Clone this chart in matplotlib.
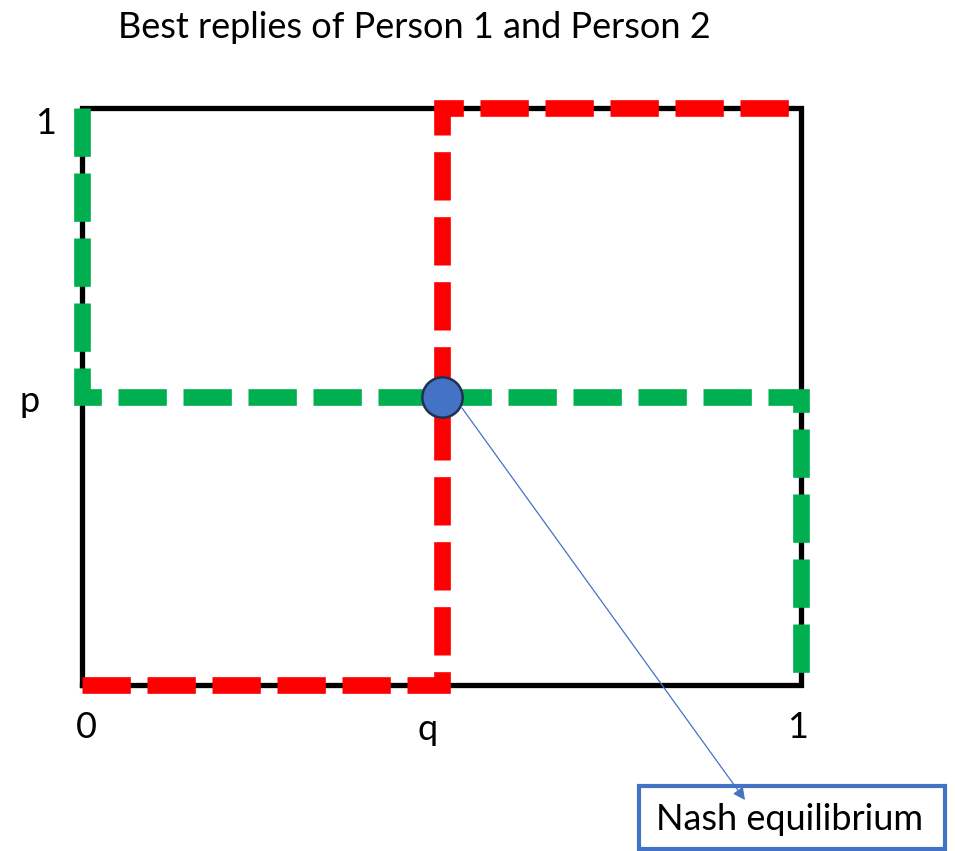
import matplotlib.pyplot as plt
from matplotlib.patches import Rectangle

plt.rcParams['font.family'] = ['Lato', 'DejaVu Sans']

# equilibrium mixing probabilities
q_star = 0.5
p_star = 0.5

# best reply of person 1 (green) and person 2 (red), as corner points (q, p)
br1_q = [0.0, 0.0, 1.0, 1.0]
br1_p = [1.0, p_star, p_star, 0.0]
br2_q = [0.0, q_star, q_star, 1.0]
br2_p = [0.0, 0.0, 1.0, 1.0]

W, H = 955, 851
x0, x1 = 82, 801      # pixel columns of q=0 and q=1
y0, y1 = 685, 108     # pixel rows of p=0 and p=1
sx = x1 - x0
sy = y0 - y1

def px(x, y):
    # pixel position (from top-left) -> data coordinates
    return (x - x0) / sx, (y0 - y) / sy

fig = plt.figure(figsize=(W / 100, H / 100), dpi=100)
ax = fig.add_axes([0, 0, 1, 1])
ax.set_xlim(-x0 / sx, (W - x0) / sx)
ax.set_ylim(-(H - y0) / sy, y0 / sy)
ax.axis('off')

# unit square
ax.plot([0, 1, 1, 0, 0], [0, 0, 1, 1, 0], color='black', lw=3.8,
        solid_joinstyle='miter', zorder=1)

ax.plot(br1_q, br1_p, color='#00B050', lw=12, dashes=(2.9, 1.0),
        solid_joinstyle='miter', dash_capstyle='butt', dash_joinstyle='miter',
        zorder=2)
ax.plot(br2_q, br2_p, color='#FF0000', lw=12, dashes=(2.9, 1.0),
        solid_joinstyle='miter', dash_capstyle='butt', dash_joinstyle='miter',
        zorder=3)

ax.plot([q_star], [p_star], 'o', ms=29, mfc='#4472C4', mec='#1F3050', mew=1.8,
        zorder=5)

fs = 26
ax.text(*px(414, 28), 'Best replies of Person 1 and Person 2', fontsize=fs,
        ha='center', va='center')
ax.text(*px(46, 124), '1', fontsize=fs, ha='center', va='center')
ax.text(*px(30, 402), 'p', fontsize=fs, ha='center', va='center')
ax.text(*px(86, 728), '0', fontsize=fs, ha='center', va='center')
ax.text(*px(428, 730), 'q', fontsize=fs, ha='center', va='center')
ax.text(*px(798, 728), '1', fontsize=fs, ha='center', va='center')

# label box
bx, by = px(639, 849)
bw, bh = (945 - 639) / sx, (849 - 786) / sy
ax.add_patch(Rectangle((bx, by), bw, bh, facecolor='white', edgecolor='#4472C4',
                       lw=3, zorder=4))
ax.text(*px(790, 820), 'Nash equilibrium', fontsize=fs, ha='center', va='center',
        zorder=6)

ax.annotate('', xy=px(745, 800), xytext=px(462, 408),
            arrowprops=dict(arrowstyle='-|>', color='#4472C4', lw=0.9,
                            mutation_scale=18, shrinkA=0, shrinkB=0), zorder=6)

fig.savefig('out.png', dpi=100)
